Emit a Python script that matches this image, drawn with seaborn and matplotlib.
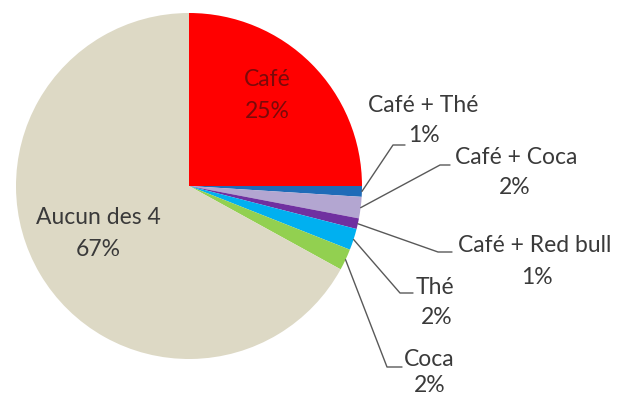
import numpy as np
import matplotlib
matplotlib.use("Agg")
import matplotlib.pyplot as plt
import seaborn as sns

sns.set_theme(style="white")
plt.rcParams["font.family"] = ["Lato", "DejaVu Sans"]

# Drink consumption shares
categories = ["Café", "Café + Thé", "Café + Coca", "Café + Red bull", "Thé", "Coca", "Aucun des 4"]
shares = [25, 1, 2, 1, 2, 2, 67]
colors = ["#FF0000", "#1F6BB8", "#B3A6D1", "#7030A0", "#00B0F0", "#92D050", "#DDD9C5"]

W, H = 617, 398
fig = plt.figure(figsize=(W / 100, H / 100), dpi=100)
ax = fig.add_axes([0, 0, 1, 1])

cx, cy, r = 189, H - 186, 173
wedges, _ = ax.pie(shares, colors=colors, startangle=90, counterclock=False,
                   center=(cx, cy), radius=r, frame=True,
                   wedgeprops=dict(linewidth=0))
ax.set_xlim(0, W)
ax.set_ylim(0, H)
ax.axis("off")

fs = 16.5
txt = "#3A3A3A"

def Y(y):
    return H - y

# labels inside their wedges
inside = {
    "Café": ((267, 80), (267, 112), "#7A0A0A"),
    "Aucun des 4": ((98, 218), (98, 250), txt),
}
# outside labels: elbow of leader, end of leader, name centre, value centre
outside = {
    "Café + Thé": ((393, 145), (405, 145), (423, 105), (424, 135)),
    "Café + Coca": ((440, 165), (450, 165), (516, 157), (515, 188)),
    "Café + Red bull": ((438, 252), (452, 252), (535, 245), (537, 277)),
    "Thé": ((400, 293), (413, 293), (435, 287), (437, 318)),
    "Coca": ((387, 367), (402, 367), (429, 359), (430, 386)),
}

for cat, val, w in zip(categories, shares, wedges):
    pct = f"{val}%"
    if cat in inside:
        (nx, ny), (px, py), col = inside[cat]
        ax.text(nx, Y(ny), cat, ha="center", va="center", fontsize=fs, color=col)
        ax.text(px, Y(py), pct, ha="center", va="center", fontsize=fs, color=col)
        continue
    mid = np.deg2rad((w.theta1 + w.theta2) / 2)
    sx, sy = cx + r * np.cos(mid), cy + r * np.sin(mid)
    (ex, ey), (tx, ty), (nx, ny), (px, py) = outside[cat]
    ax.plot([sx, ex, tx], [sy, Y(ey), Y(ty)], color="#595959", lw=1.0)
    ax.text(nx, Y(ny), cat, ha="center", va="center", fontsize=fs, color=txt)
    ax.text(px, Y(py), pct, ha="center", va="center", fontsize=fs, color=txt)

fig.savefig("out.png", dpi=100, facecolor="white")
